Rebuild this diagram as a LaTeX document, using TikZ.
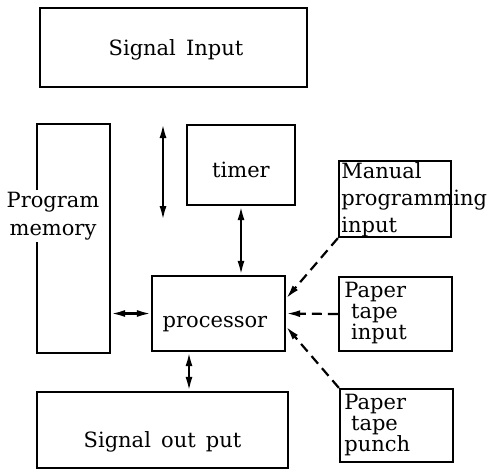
\documentclass[tikz,border=0pt]{standalone}
\usepackage{fontspec}
\setmainfont{DejaVu Serif}
\usepackage{tikz}
\usetikzlibrary{arrows.meta, positioning}

\begin{document}
\begin{tikzpicture}[
    x=0.5pt, y=-0.5pt,
    box/.style={rectangle, draw=black, line width=1.1pt, inner sep=0pt},
    txt/.style={font=\fontsize{10.5}{12}\selectfont, inner sep=1pt},
    sidetxt/.style={font=\fontsize{10.5}{10.5}\selectfont, align=left, inner sep=1pt, anchor=north west},
    arrow/.style={{Latex[length=7pt,width=3.5pt]}-{Latex[length=7pt,width=3.5pt]}, line width=1.1pt},
    dasharrow/.style={-{Latex[length=7pt,width=3.5pt]}, line width=1.1pt, dash pattern=on 5pt off 3pt}
]
    \useasboundingbox (0,0) rectangle (490,473);

    % Main blocks
    \node[box, minimum width=133.5pt, minimum height=39.5pt] (sigin) at (173.5, 47.5) {};
    \node[txt] (sigin_label) at (176, 50) {Signal\, Input};
    \node[box, minimum width=36.5pt, minimum height=114.5pt] (mem) at (73.5, 238.5) {};
    \node[txt, fill=white, align=center, font=\fontsize{10.5}{14}\selectfont] (mem_label) at (53, 216) {Program\\memory};
    \node[box, minimum width=54pt, minimum height=40pt] (timer) at (241, 165) {};
    \node[txt] (timer_label) at (241, 170) {timer};
    \node[box, minimum width=66.5pt, minimum height=37.5pt] (proc) at (218.5, 313.5) {};
    \node[txt] (proc_label) at (215, 324) {processor};
    \node[box, minimum width=125.5pt, minimum height=38pt] (sigout) at (162.5, 430) {};
    \node[txt] (sigout_label) at (162.5, 442) {Signal\, out\, put};

    % Program loading devices
    \node[box, minimum width=56pt, minimum height=38pt] (manual) at (395, 199) {};
    \node[sidetxt, font=\fontsize{10.5}{13.5}\selectfont] (manual_label) at (339, 160) {Manual\\programming\\input};
    \node[box, minimum width=56.5pt, minimum height=37pt] (tapein) at (395.5, 314) {};
    \node[sidetxt] (tapein_label) at (342, 280) {Paper\\\ tape\\\ input};
    \node[box, minimum width=56.5pt, minimum height=36.5pt] (punch) at (396.5, 425.5) {};
    \node[sidetxt] (punch_label) at (342, 392) {Paper\\\ tape\\punch};

    % Free arrow beside the timer
    \coordinate (free_top) at (163, 124);
    \coordinate (free_bot) at (163, 220);
    \draw[arrow] (free_top) -- (free_bot);

    % Connections
    \draw[arrow] (timer.south) -- (timer.south |- proc.north);
    \draw[arrow] (mem.east |- proc.west) -- (proc.west);
    \draw[arrow] ([xshift=-14.75pt]proc.south) -- ([xshift=-14.75pt]proc.south |- sigout.north);
    \draw[dasharrow] (manual.south west) -- ([yshift=7.5pt]proc.east);
    \draw[dasharrow] (tapein.west) -- (proc.east);
    \draw[dasharrow] (punch.north west) -- ([yshift=-6.5pt]proc.east);
\end{tikzpicture}
\end{document}
